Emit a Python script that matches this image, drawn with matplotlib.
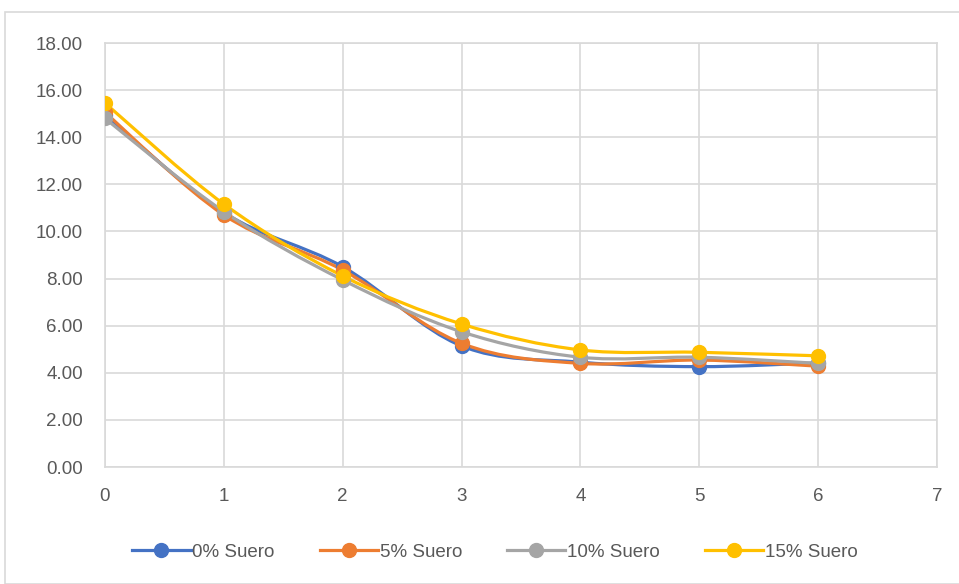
import numpy as np
import matplotlib.pyplot as plt
from matplotlib.path import Path
from matplotlib.patches import PathPatch, Rectangle
from matplotlib.lines import Line2D

plt.rcParams['font.family'] = ['Liberation Sans', 'DejaVu Sans']

# days and readings for each whey level
dias = [0, 1, 2, 3, 4, 5, 6]
suero_0 = [14.95, 10.80, 8.50, 5.14, 4.45, 4.26, 4.42]
suero_5 = [15.05, 10.70, 8.36, 5.25, 4.40, 4.54, 4.28]
suero_10 = [14.80, 10.84, 7.94, 5.74, 4.66, 4.66, 4.40]
suero_15 = [15.45, 11.16, 8.11, 6.07, 4.97, 4.87, 4.72]

series = [
    ("0% Suero", suero_0, "#4472C4"),
    ("5% Suero", suero_5, "#ED7D31"),
    ("10% Suero", suero_10, "#A5A5A5"),
    ("15% Suero", suero_15, "#FFC000"),
]


# smoothed line through the points (cubic bezier, catmull-rom style)
def smooth_path(x, y):
    pts = np.column_stack([x, y]).astype(float)
    n = len(pts)
    verts = [pts[0]]
    codes = [Path.MOVETO]
    for i in range(n - 1):
        p0 = pts[i - 1] if i > 0 else pts[i]
        p1 = pts[i]
        p2 = pts[i + 1]
        p3 = pts[i + 2] if i + 2 < n else pts[i + 1]
        c1 = p1 + (p2 - p0) / 6
        c2 = p2 - (p3 - p1) / 6
        verts += [c1, c2, p2]
        codes += [Path.CURVE4] * 3
    return Path(verts, codes)


fig = plt.figure(figsize=(9.59, 5.84), dpi=100)
fig.patches.append(Rectangle((5 / 959, 0), 1.2, (584 - 12) / 584,
                             transform=fig.transFigure, fill=False,
                             edgecolor="#D9D9D9", linewidth=1.2))
ax = fig.add_axes([105 / 959, 1 - 467 / 584, (937 - 105) / 959, (467 - 43) / 584])

for label, vals, color in series:
    ax.add_patch(PathPatch(smooth_path(dias, vals), fill=False,
                           edgecolor=color, linewidth=2.3, zorder=3,
                           capstyle="round", joinstyle="round"))
    ax.plot(dias, vals, linestyle="none", marker="o", markersize=10,
            color=color, zorder=4)

ax.set_xlim(0, 7)
ax.set_ylim(0, 18)
ax.set_xticks(range(0, 8))
ax.set_yticks(np.arange(0, 19, 2))
ax.set_yticklabels([f"{v:.2f}" for v in np.arange(0, 19, 2)])
ax.grid(True, color="#D9D9D9", linewidth=1.2)
ax.set_axisbelow(True)
for s in ax.spines.values():
    s.set_color("#D9D9D9")
    s.set_linewidth(1.2)
ax.tick_params(length=0, labelsize=13.5, colors="#595959")
ax.tick_params(axis="y", pad=16)
ax.tick_params(axis="x", pad=15)

handles = [Line2D([0], [0], color=c, linewidth=2.3, marker="o", markersize=10)
           for _, _, c in series]
fig.legend(handles, [s[0] for s in series], loc="center",
           bbox_to_anchor=(495 / 959, 1 - 552 / 584), ncol=4, frameon=False,
           fontsize=13.5, labelcolor="#595959", handlelength=3.1,
           handletextpad=0.1, columnspacing=2.4)

fig.savefig("out.png", dpi=100)
